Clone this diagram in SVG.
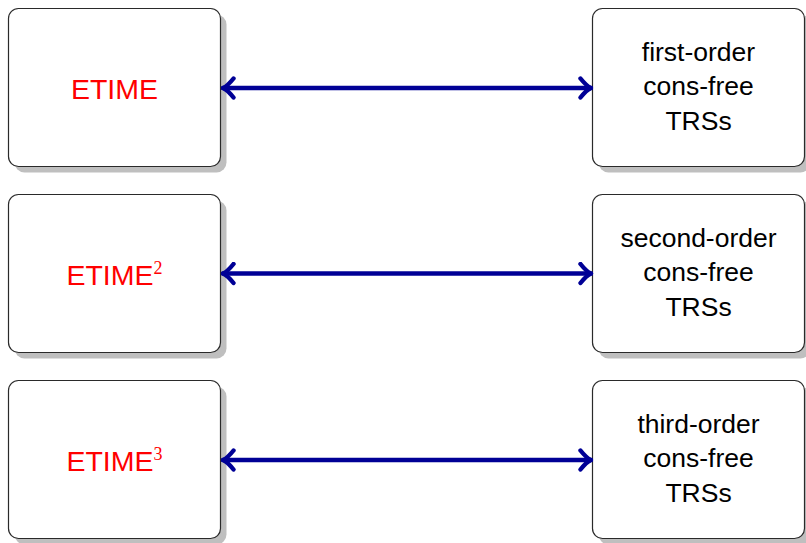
<svg xmlns="http://www.w3.org/2000/svg" width="806" height="543" viewBox="0 0 806 543">
<style>
.shadow{fill:#bfbfbf}
.box{fill:#ffffff;stroke:#2a2a2a;stroke-width:1.2}
.lbl{font-family:"Liberation Sans",Arial,sans-serif;font-size:28.5px;fill:#ff0000;text-anchor:middle}
.sup{font-family:"Liberation Serif","Times New Roman",serif;font-size:18px}
.txt{font-family:"Liberation Sans",Arial,sans-serif;font-size:26.5px;fill:#000000;text-anchor:middle}
.edge{stroke:#000096;stroke-width:4.4;fill:none;stroke-linecap:round;stroke-linejoin:round}
</style>
<defs>
<marker id="head" viewBox="0 0 15 24" refX="13" refY="12" markerWidth="15" markerHeight="24" markerUnits="userSpaceOnUse" orient="auto-start-reverse">
<path d="M2.5,2.5 Q8.5,10 13,12 Q8.5,14 2.5,21.5" fill="none" stroke="#000096" stroke-width="4.4" stroke-linecap="round" stroke-linejoin="round"/>
</marker>
</defs>
<g id="n1">
<rect class="shadow" x="14.5" y="14.5" width="212" height="158" rx="10"/>
<rect class="box" x="8.5" y="8.5" width="212" height="158" rx="10"/>
<text class="lbl" x="114.5" y="98.5">ETIME</text>
</g>
<g id="n2">
<rect class="shadow" x="598.5" y="14.5" width="212" height="158" rx="10"/>
<rect class="box" x="592.5" y="8.5" width="212" height="158" rx="10"/>
<text class="txt" x="698.5" y="60.5">first-order</text>
<text class="txt" x="698.5" y="95">cons-free</text>
<text class="txt" x="698.5" y="129.5">TRSs</text>
</g>
<g id="n3">
<rect class="shadow" x="14.5" y="200.5" width="212" height="158" rx="10"/>
<rect class="box" x="8.5" y="194.5" width="212" height="158" rx="10"/>
<text class="lbl" x="114.5" y="285">ETIME<tspan class="sup" dy="-11">2</tspan></text>
</g>
<g id="n4">
<rect class="shadow" x="598.5" y="200.5" width="212" height="158" rx="10"/>
<rect class="box" x="592.5" y="194.5" width="212" height="158" rx="10"/>
<text class="txt" x="698.5" y="246.5">second-order</text>
<text class="txt" x="698.5" y="281">cons-free</text>
<text class="txt" x="698.5" y="315.5">TRSs</text>
</g>
<g id="n5">
<rect class="shadow" x="14.5" y="386.5" width="212" height="158" rx="10"/>
<rect class="box" x="8.5" y="380.5" width="212" height="158" rx="10"/>
<text class="lbl" x="114.5" y="471">ETIME<tspan class="sup" dy="-11">3</tspan></text>
</g>
<g id="n6">
<rect class="shadow" x="598.5" y="386.5" width="212" height="158" rx="10"/>
<rect class="box" x="592.5" y="380.5" width="212" height="158" rx="10"/>
<text class="txt" x="698.5" y="432.5">third-order</text>
<text class="txt" x="698.5" y="467">cons-free</text>
<text class="txt" x="698.5" y="501.5">TRSs</text>
</g>
<g id="edges">
<line class="edge" x1="223" y1="88" x2="591" y2="88" marker-start="url(#head)" marker-end="url(#head)"/>
<line class="edge" x1="223" y1="273.5" x2="591" y2="273.5" marker-start="url(#head)" marker-end="url(#head)"/>
<line class="edge" x1="223" y1="460" x2="591" y2="460" marker-start="url(#head)" marker-end="url(#head)"/>
</g>
</svg>
